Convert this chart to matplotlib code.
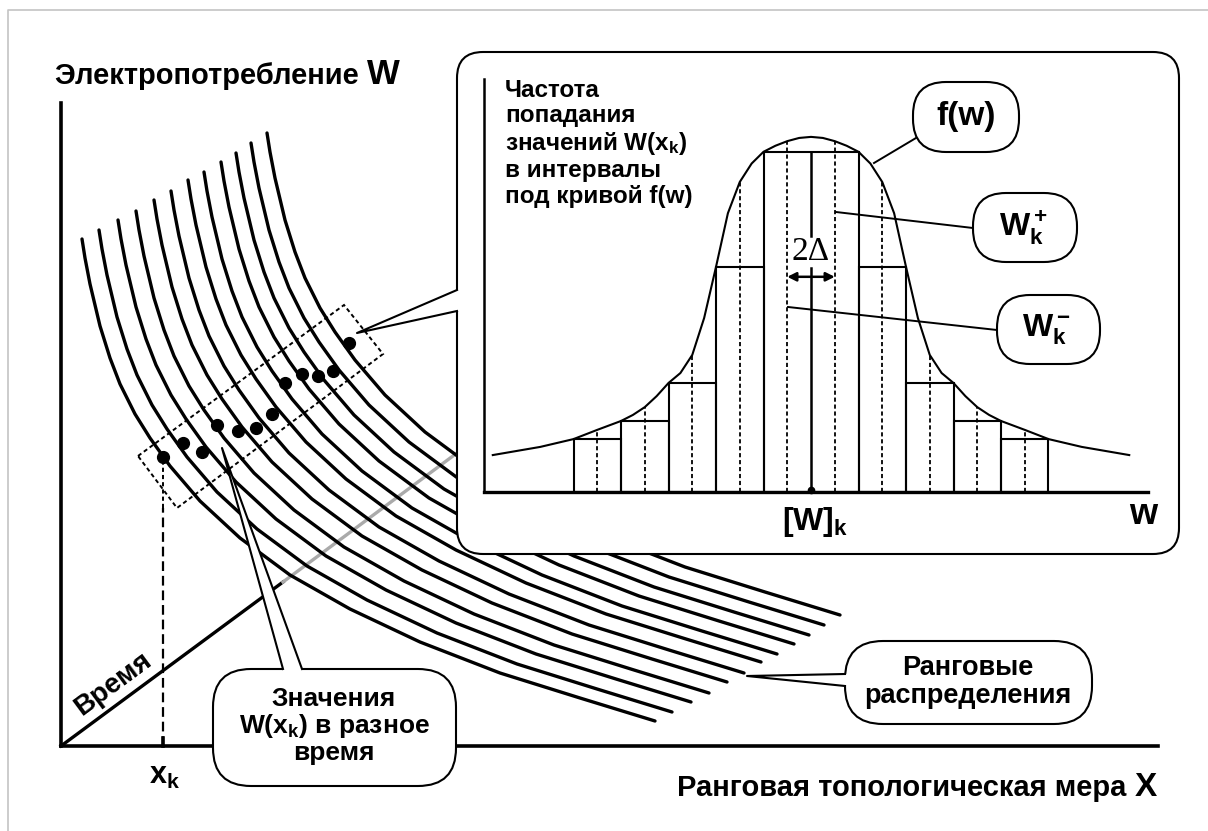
import numpy as np
import matplotlib
matplotlib.use("Agg")
import matplotlib.pyplot as plt
from matplotlib.patches import FancyBboxPatch, Polygon
from matplotlib.offsetbox import TextArea, HPacker, AnnotationBbox

plt.rcParams['font.family'] = ['Liberation Sans', 'DejaVu Sans']
plt.rcParams['font.weight'] = 'bold'
plt.rcParams['lines.scale_dashes'] = False
plt.rcParams['mathtext.fontset'] = 'custom'
plt.rcParams['mathtext.rm'] = 'Liberation Sans'
plt.rcParams['mathtext.it'] = 'Liberation Sans'
plt.rcParams['mathtext.bf'] = 'Liberation Sans:bold'

# ранговые распределения: форма внутренней кривой (x от начала осей, W вверх)
base_x = [21, 24, 29, 39, 49, 59, 74, 89, 109, 139, 179, 229, 289, 359, 439, 519, 594]
base_w = [507, 488, 462, 420, 388, 362, 332, 308, 280, 245, 208, 171, 137, 104, 73, 48, 25]
# сдвиг каждой кривой во времени
shift_x = [0, 17, 36, 54, 72, 89, 106, 122, 139, 154, 169, 185]
shift_w = [0, 9, 19, 28, 39, 48, 59, 67, 77, 86, 96, 106]
# точки W(x_k) в разное время
dot_x = [102, 122, 141, 156, 177, 195, 211, 224, 241, 257, 272, 288]
dot_w = [289, 303, 294, 321, 315, 318, 332, 363, 372, 370, 375, 403]
x_k = 102

# врезка: кривая f(w) (смещение от [W]k в единицах Δ, высота относительно пика)
f_off = [0, 0.5, 1, 1.5, 2, 2.5, 3, 3.5, 4, 4.5, 5, 5.5, 6, 6.5, 7, 7.5, 8, 9, 10, 11.4, 13.4]
f_val = [1.0, 0.997, 0.988, 0.975, 0.958, 0.925, 0.873, 0.785, 0.634, 0.490, 0.386, 0.335,
         0.307, 0.270, 0.239, 0.217, 0.200, 0.175, 0.149, 0.127, 0.104]
# гистограмма (интервалы шириной 2Δ)
bin_c = [-9, -7, -5, -3, 0, 3, 5, 7, 9]
bin_wd = [2, 2, 2, 2, 4, 2, 2, 2, 2]
bin_h = [0.149, 0.200, 0.307, 0.634, 0.958, 0.634, 0.307, 0.200, 0.149]
dash_c = [-9, -7, -5, -3, -1, 1, 3, 5, 7, 9]
dash_h = [0.175, 0.239, 0.386, 0.873, 0.988, 0.988, 0.873, 0.386, 0.239, 0.175]

fig = plt.figure(figsize=(12.08, 8.31), dpi=100)
ax = fig.add_axes([0, 0, 1, 1])
ax.set_xlim(-61, 1147)
ax.set_ylim(-85, 746)
ax.axis('off')


def P(px, py):
    # пиксели картинки -> координаты графика
    return px - 61, 746 - py


def rbox(l, t, r, b, rad, z=5, lw=1.5):
    x0, y0 = P(l, b)
    ax.add_patch(FancyBboxPatch((x0, y0), r - l, b - t,
                                boxstyle=f"round,pad=0,rounding_size={rad}",
                                fc='white', ec='black', lw=lw, zorder=z))


def callout(p1, p2, tip, inward, z=5):
    a, b, c = P(*p1), P(*p2), P(*tip)
    ia = (a[0] + inward[0], a[1] - inward[1])
    ib = (b[0] + inward[0], b[1] - inward[1])
    ax.add_patch(Polygon([a, c, b, ib, ia], closed=True, fc='white', ec='none', zorder=z + 0.1))
    ax.plot([a[0], c[0], b[0]], [a[1], c[1], b[1]], color='k', lw=1.5, zorder=z + 0.2)


# серая рамка
ax.plot(*zip(P(8, 831), P(8, 10), P(1208, 10)), color='#c4c4c4', lw=1.2, zorder=0)

# оси
ax.plot([0, 0], [0, 643], color='k', lw=2.6, zorder=3)
ax.plot([0, 1097], [0, 0], color='k', lw=2.6, zorder=3)

# ось времени
ax.plot([0, 222], [0, 164], color='k', lw=2.4, zorder=1)
ax.plot([222, 396], [164, 293], color='#aaaaaa', lw=2.4, zorder=1)
ax.text(*P(113, 684), 'Время', fontsize=20, rotation=36.5, ha='center', va='center',
        rotation_mode='anchor')

# кривые
for dx, dw in zip(shift_x, shift_w):
    ax.plot(np.array(base_x) + dx, np.array(base_w) + dw, color='k', lw=2.4,
            solid_capstyle='round', zorder=2)

# точки и пунктирная рамка
ax.plot(dot_x, dot_w, 'o', ms=8.5, color='k', zorder=4)
ax.add_patch(Polygon([P(138, 456), P(344, 305), P(383, 354), P(177, 508)], closed=True,
                     fill=False, ec='k', lw=1.4, ls=(0, (3, 2.2)), zorder=4))
ax.plot([x_k, x_k], [0, 238], color='k', lw=1.6, ls=(0, (7, 3.5)), zorder=3)
ax.plot([x_k, x_k], [238, 289], color='k', lw=1.4, ls=(0, (3, 2.2)), zorder=3)
ax.plot([x_k, x_k], [0, 8], color='k', lw=2.6, zorder=3)
ax.text(*P(165, 776), 'x$_k$', fontsize=22, ha='center', va='center')

# подписи осей
title = HPacker(children=[TextArea('Электропотребление ', textprops=dict(fontsize=21, fontweight='bold')),
                          TextArea('W', textprops=dict(fontsize=25, fontweight='bold'))],
                align='baseline', pad=0, sep=0)
ax.add_artist(AnnotationBbox(title, P(55, 74), box_alignment=(0, 0.5), frameon=False))
xlab = HPacker(children=[TextArea('Ранговая топологическая мера ', textprops=dict(fontsize=21, fontweight='bold')),
                         TextArea('X', textprops=dict(fontsize=24, fontweight='bold'))],
               align='baseline', pad=0, sep=0)
ax.add_artist(AnnotationBbox(xlab, P(1157, 787), box_alignment=(1, 0.5), frameon=False))

# выноски
rbox(213, 669, 456, 786, 38)
callout((283, 669), (302, 669), (222, 448), (0, 3))
ax.text(*P(334, 726), 'Значения\nW(x$_k$) в разное\nвремя', fontsize=19, ha='center', va='center',
        linespacing=1.05, zorder=6)

rbox(845, 641, 1092, 724, 38)
callout((845, 674), (845, 686), (747, 676), (3, 0))
ax.text(*P(968, 682), 'Ранговые\nраспределения', fontsize=19.5, ha='center', va='center',
        linespacing=1.12, zorder=6)

# врезка
rbox(457, 52, 1179, 554, 26)
callout((457, 290), (457, 311), (357, 333), (3, 0))
ax.text(*P(505, 79), 'Частота\nпопадания\nзначений W(x$_k$)\nв интервалы\nпод кривой f(w)',
        fontsize=17.5, ha='left', va='top', linespacing=1.13, zorder=6)

for l, t, r, b, s, cx, cy, a, tip in [
        (913, 82, 1019, 152, 'f(w)', 966, 117, (921, 135), (874, 163)),
        (973, 193, 1077, 262, 'W$_k^+$', 1023, 228, (973, 228), (836, 212)),
        (997, 295, 1100, 364, 'W$_k^-$', 1046, 330, (997, 330), (788, 307))]:
    ax.plot(*zip(P(*a), P(*tip)), color='k', lw=1.4, zorder=7)
    rbox(l, t, r, b, 33, z=7)
    ax.text(*P(cx, cy), s, fontsize=24 if s == 'f(w)' else 23, ha='center', va='center', zorder=8)

ax.text(*P(815, 522), '[W]$_k$', fontsize=23, ha='center', va='center', zorder=8)
ax.text(*P(1143, 514), 'w', fontsize=26, ha='center', va='center', zorder=8)

axi = fig.add_axes([484 / 1208, 1 - 492 / 831, 664 / 1208, 413 / 831])
axi.set_zorder(2)
axi.set_xlim(-13.77, 14.19)
axi.set_ylim(0, 1.163)
axi.axis('off')
axi.plot([-13.77, -13.77], [0, 1.163], color='k', lw=1.8, clip_on=False)
axi.plot([-13.77, 14.19], [0, 0], color='k', lw=2.4, clip_on=False, zorder=5)

fx = np.concatenate([-np.array(f_off[::-1]), np.array(f_off[1:])])
fy = np.concatenate([np.array(f_val[::-1]), np.array(f_val[1:])])
axi.plot(fx, fy, color='k', lw=1.5, clip_on=False)
axi.bar(bin_c, bin_h, width=bin_wd, fill=False, edgecolor='k', lw=1.5)
axi.vlines(dash_c, 0, dash_h, colors='k', lw=1.3, linestyles=[(0, (3, 2))])
axi.plot([0, 0], [0, 0.63], color='k', lw=1.8)
axi.plot([0, 0], [0.72, 0.958], color='k', lw=1.8)
axi.plot([0], [0.006], 'o', ms=4.5, color='k', clip_on=False)
axi.annotate('', xy=(-1, 0.606), xytext=(1, 0.606),
             arrowprops=dict(arrowstyle='<|-|>', lw=1.8, mutation_scale=13, shrinkA=0, shrinkB=0,
                             color='k'))
axi.text(0, 0.676, '2Δ', fontsize=24, family='Liberation Serif', fontweight='normal',
         ha='center', va='center')

fig.savefig('out.png', dpi=100)
